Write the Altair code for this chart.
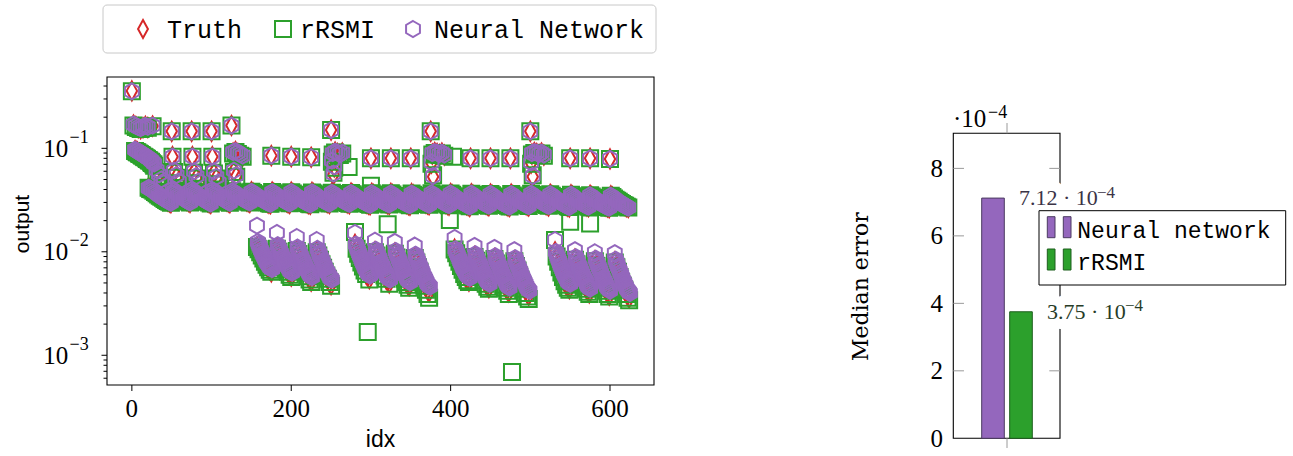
import altair as alt
import pandas as pd

# ------------------------------------------------------------------
# Left panel: model output per sample index (log scale)
# ------------------------------------------------------------------
RED, GREEN, PURPLE = "#d62728", "#2ca02c", "#9467bd"
SERIF, SANS, MONO = "Liberation Serif", "Liberation Sans", "Liberation Mono"
MARK_STROKE = 2.0

DIAMOND = "M0,-1L0.55,0L0,1L-0.55,0Z"
SQUARE = "M-1,-1L1,-1L1,1L-1,1Z"
HEXAGON = "M0,-1L0.866,-0.5L0.866,0.5L0,1L-0.866,0.5L-0.866,-0.5Z"

# Main band (all three models agree), one list per 125-sample group, every 2nd idx
band_start = [21, 126, 251, 376, 501]
band_values = [
    [0.0415, 0.0405,
     0.0400, 0.0389, 0.0378, 0.0368, 0.0358, 0.0349, 0.0340, 0.0332, 0.0324, 0.0317, 0.0310, 0.0304, 0.0298,
     0.0398, 0.0386, 0.0375, 0.0364, 0.0354, 0.0345, 0.0336, 0.0328, 0.0320, 0.0313, 0.0306, 0.0300,
     0.0396, 0.0385, 0.0374, 0.0363, 0.0353, 0.0344, 0.0335, 0.0327, 0.0319, 0.0312, 0.0305, 0.0299, 0.0293,
     0.0395, 0.0383, 0.0372, 0.0361, 0.0351, 0.0342, 0.0334, 0.0326, 0.0318, 0.0311, 0.0304, 0.0298],
    [0.0385, 0.0375, 0.0365, 0.0356, 0.0347, 0.0339, 0.0331, 0.0324, 0.0317, 0.0311, 0.0305, 0.0300,
     0.0380, 0.0370, 0.0360, 0.0351, 0.0342, 0.0334, 0.0326, 0.0319, 0.0312, 0.0306, 0.0300, 0.0295, 0.0291,
     0.0378, 0.0368, 0.0358, 0.0349, 0.0340, 0.0332, 0.0324, 0.0317, 0.0311, 0.0305, 0.0299, 0.0294,
     0.0377, 0.0366, 0.0356, 0.0347, 0.0338, 0.0330, 0.0323, 0.0316, 0.0309, 0.0303, 0.0297, 0.0292, 0.0288,
     0.0375, 0.0365, 0.0355, 0.0346, 0.0337, 0.0329, 0.0322, 0.0315, 0.0309, 0.0303, 0.0298, 0.0293],
    [0.0372, 0.0362, 0.0352, 0.0343, 0.0335, 0.0327, 0.0320, 0.0313, 0.0307, 0.0301, 0.0296, 0.0291,
     0.0370, 0.0360, 0.0350, 0.0341, 0.0333, 0.0325, 0.0318, 0.0311, 0.0305, 0.0299, 0.0294, 0.0289, 0.0285,
     0.0368, 0.0358, 0.0348, 0.0339, 0.0331, 0.0323, 0.0316, 0.0309, 0.0303, 0.0297, 0.0292, 0.0287,
     0.0367, 0.0357, 0.0347, 0.0338, 0.0330, 0.0322, 0.0315, 0.0308, 0.0302, 0.0296, 0.0291, 0.0286, 0.0282,
     0.0365, 0.0355, 0.0346, 0.0337, 0.0329, 0.0321, 0.0314, 0.0307, 0.0301, 0.0295, 0.0290, 0.0285],
    [0.0368, 0.0357, 0.0347, 0.0338, 0.0329, 0.0321, 0.0313, 0.0306, 0.0299, 0.0293, 0.0287, 0.0282,
     0.0366, 0.0355, 0.0345, 0.0336, 0.0327, 0.0319, 0.0311, 0.0304, 0.0297, 0.0291, 0.0285, 0.0280, 0.0275,
     0.0364, 0.0353, 0.0343, 0.0334, 0.0325, 0.0317, 0.0309, 0.0302, 0.0296, 0.0290, 0.0284, 0.0279,
     0.0362, 0.0352, 0.0342, 0.0333, 0.0324, 0.0316, 0.0308, 0.0301, 0.0295, 0.0289, 0.0283, 0.0278, 0.0274,
     0.0361, 0.0350, 0.0340, 0.0331, 0.0322, 0.0314, 0.0307, 0.0300, 0.0294, 0.0288, 0.0282, 0.0277],
    [0.0364, 0.0353, 0.0343, 0.0334, 0.0325, 0.0317, 0.0309, 0.0302, 0.0295, 0.0289, 0.0283, 0.0278,
     0.0360, 0.0349, 0.0339, 0.0330, 0.0321, 0.0313, 0.0306, 0.0299, 0.0292, 0.0286, 0.0281, 0.0276, 0.0271,
     0.0356, 0.0345, 0.0335, 0.0326, 0.0318, 0.0310, 0.0303, 0.0296, 0.0289, 0.0283, 0.0278, 0.0273,
     0.0352, 0.0342, 0.0332, 0.0323, 0.0315, 0.0307, 0.0300, 0.0293, 0.0287, 0.0281, 0.0276, 0.0271, 0.0267,
     0.0348, 0.0338, 0.0328, 0.0319, 0.0311, 0.0304, 0.0297, 0.0290, 0.0284, 0.0278, 0.0273, 0.0268],
]

# Low clusters: four runs per group (groups 1..4). Truth / rRSMI every 2nd idx,
# network output at every idx.
low_starts = [[157, 182, 207, 232], [280, 305, 330, 355], [405, 430, 455, 480], [531, 556, 581, 606]]
low_truth = [
    [0.0112, 0.0104, 0.0097, 0.0090, 0.0084, 0.0079, 0.0074, 0.0070, 0.0067, 0.0064,
     0.0108, 0.0099, 0.0091, 0.0084, 0.0078, 0.0073, 0.0068, 0.0064, 0.0061, 0.0058,
     0.0103, 0.0094, 0.0086, 0.0079, 0.0073, 0.0067, 0.0062, 0.0058, 0.0055, 0.0052,
     0.0100, 0.0091, 0.0083, 0.0076, 0.0069, 0.0064, 0.0059, 0.0055, 0.0051, 0.0048],
    [0.0118, 0.0106, 0.0095, 0.0086, 0.0078, 0.0071, 0.0066, 0.0061, 0.0058, 0.0055,
     0.0100, 0.0091, 0.0083, 0.0076, 0.0070, 0.0064, 0.0059, 0.0055, 0.0052, 0.0050,
     0.0097, 0.0088, 0.0080, 0.0073, 0.0066, 0.0061, 0.0056, 0.0052, 0.0049, 0.0047,
     0.0088, 0.0080, 0.0072, 0.0065, 0.0059, 0.0054, 0.0050, 0.0046, 0.0043, 0.0041],
    [0.0106, 0.0096, 0.0087, 0.0079, 0.0072, 0.0066, 0.0061, 0.0057, 0.0054, 0.0052,
     0.0090, 0.0082, 0.0075, 0.0069, 0.0063, 0.0058, 0.0054, 0.0050, 0.0047, 0.0045,
     0.0086, 0.0078, 0.0071, 0.0065, 0.0059, 0.0054, 0.0050, 0.0046, 0.0043, 0.0041,
     0.0082, 0.0074, 0.0067, 0.0061, 0.0055, 0.0050, 0.0046, 0.0043, 0.0040, 0.0038],
    [0.0100, 0.0088, 0.0078, 0.0069, 0.0062, 0.0056, 0.0052, 0.0048, 0.0046, 0.0044,
     0.0085, 0.0077, 0.0070, 0.0063, 0.0057, 0.0052, 0.0048, 0.0045, 0.0042, 0.0040,
     0.0082, 0.0074, 0.0067, 0.0061, 0.0055, 0.0050, 0.0046, 0.0043, 0.0040, 0.0038,
     0.0080, 0.0072, 0.0065, 0.0059, 0.0053, 0.0048, 0.0044, 0.0041, 0.0038, 0.0036],
]
low_rrsmi = [
    [0.0111, 0.0106, 0.0099, 0.0092, 0.0086, 0.0080, 0.0075, 0.0071, 0.0067, 0.0064,
     0.0107, 0.0100, 0.0092, 0.0085, 0.0079, 0.0073, 0.0068, 0.0064, 0.0060, 0.0057,
     0.0102, 0.0095, 0.0087, 0.0080, 0.0073, 0.0068, 0.0063, 0.0058, 0.0054, 0.0051,
     0.0099, 0.0092, 0.0084, 0.0076, 0.0070, 0.0064, 0.0059, 0.0055, 0.0051, 0.0047],
    [0.0155, 0.0107, 0.0096, 0.0087, 0.0079, 0.0072, 0.0066, 0.0061, 0.00168, 0.0054,
     0.0099, 0.0092, 0.0084, 0.0076, 0.0070, 0.0064, 0.0059, 0.0055, 0.0185, 0.0049,
     0.0096, 0.0088, 0.0080, 0.0072, 0.0066, 0.0060, 0.0055, 0.0051, 0.0048, 0.0045,
     0.0087, 0.0079, 0.0071, 0.0064, 0.0057, 0.0052, 0.0047, 0.0043, 0.0039, 0.0036],
    [0.0105, 0.0097, 0.0088, 0.0080, 0.0073, 0.0067, 0.0061, 0.0057, 0.0053, 0.0051,
     0.0089, 0.0082, 0.0075, 0.0068, 0.0062, 0.0057, 0.0053, 0.0049, 0.0046, 0.0044,
     0.0085, 0.0077, 0.0070, 0.0064, 0.0058, 0.0053, 0.0048, 0.0045, 0.0042, 0.0039,
     0.0081, 0.0073, 0.0066, 0.0059, 0.0053, 0.0048, 0.0044, 0.0040, 0.0037, 0.0035],
    [0.0130, 0.0090, 0.0080, 0.0071, 0.0063, 0.0057, 0.0052, 0.0048, 0.0045, 0.0043,
     0.0084, 0.0076, 0.0069, 0.0062, 0.0056, 0.0051, 0.0047, 0.0044, 0.0041, 0.0039,
     0.0081, 0.0073, 0.0066, 0.0060, 0.0054, 0.0049, 0.0045, 0.0042, 0.0039, 0.0037,
     0.0079, 0.0071, 0.0064, 0.0057, 0.0051, 0.0047, 0.0043, 0.0039, 0.0036, 0.0034],
]
low_nn = [
    [0.0179, 0.0125, 0.0119, 0.0114, 0.0109, 0.0104, 0.0100, 0.0096, 0.0092, 0.0089,
     0.0086, 0.0083, 0.0080, 0.0078, 0.0076, 0.0074, 0.0072, 0.0070, 0.0069, 0.0068,
     0.0152, 0.0116, 0.0111, 0.0106, 0.0102, 0.0098, 0.0094, 0.0090, 0.0087, 0.0084,
     0.0081, 0.0078, 0.0075, 0.0073, 0.0071, 0.0069, 0.0067, 0.0065, 0.0064, 0.0063,
     0.0139, 0.0110, 0.0105, 0.0100, 0.0096, 0.0092, 0.0088, 0.0084, 0.0081, 0.0078,
     0.0075, 0.0072, 0.0069, 0.0067, 0.0065, 0.0063, 0.0061, 0.0059, 0.0058, 0.0057,
     0.0130, 0.0107, 0.0102, 0.0097, 0.0093, 0.0089, 0.0085, 0.0081, 0.0078, 0.0075,
     0.0072, 0.0069, 0.0066, 0.0064, 0.0062, 0.0060, 0.0058, 0.0056, 0.0055, 0.0054],
    [0.0152, 0.0118, 0.0112, 0.0107, 0.0102, 0.0097, 0.0093, 0.0089, 0.0085, 0.0081,
     0.0078, 0.0075, 0.0072, 0.0069, 0.0067, 0.0065, 0.0063, 0.0061, 0.0060, 0.0059,
     0.0128, 0.0105, 0.0100, 0.0096, 0.0092, 0.0088, 0.0084, 0.0080, 0.0077, 0.0074,
     0.0071, 0.0068, 0.0065, 0.0063, 0.0061, 0.0059, 0.0057, 0.0056, 0.0055, 0.0054,
     0.0125, 0.0102, 0.0097, 0.0093, 0.0089, 0.0085, 0.0081, 0.0077, 0.0074, 0.0071,
     0.0068, 0.0065, 0.0062, 0.0060, 0.0058, 0.0056, 0.0054, 0.0053, 0.0052, 0.0051,
     0.0115, 0.0094, 0.0090, 0.0086, 0.0082, 0.0078, 0.0074, 0.0071, 0.0068, 0.0065,
     0.0062, 0.0059, 0.0057, 0.0055, 0.0053, 0.0051, 0.0049, 0.0048, 0.0047, 0.0046],
    [0.0136, 0.0106, 0.0101, 0.0097, 0.0093, 0.0089, 0.0085, 0.0081, 0.0078, 0.0075,
     0.0072, 0.0069, 0.0067, 0.0065, 0.0063, 0.0061, 0.0059, 0.0058, 0.0057, 0.0056,
     0.0114, 0.0095, 0.0091, 0.0087, 0.0083, 0.0080, 0.0077, 0.0074, 0.0071, 0.0068,
     0.0065, 0.0062, 0.0060, 0.0058, 0.0056, 0.0054, 0.0052, 0.0051, 0.0050, 0.0049,
     0.0109, 0.0091, 0.0087, 0.0083, 0.0079, 0.0076, 0.0073, 0.0070, 0.0067, 0.0064,
     0.0061, 0.0058, 0.0056, 0.0054, 0.0052, 0.0050, 0.0048, 0.0047, 0.0046, 0.0045,
     0.0104, 0.0087, 0.0083, 0.0079, 0.0075, 0.0072, 0.0069, 0.0066, 0.0063, 0.0060,
     0.0057, 0.0055, 0.0053, 0.0051, 0.0049, 0.0047, 0.0045, 0.0044, 0.0043, 0.0042],
    [0.0130, 0.0100, 0.0095, 0.0090, 0.0086, 0.0082, 0.0078, 0.0074, 0.0071, 0.0068,
     0.0065, 0.0062, 0.0060, 0.0058, 0.0056, 0.0054, 0.0052, 0.0051, 0.0050, 0.0049,
     0.0104, 0.0089, 0.0085, 0.0081, 0.0077, 0.0074, 0.0071, 0.0068, 0.0065, 0.0062,
     0.0059, 0.0057, 0.0055, 0.0053, 0.0051, 0.0049, 0.0047, 0.0046, 0.0045, 0.0044,
     0.0099, 0.0086, 0.0082, 0.0078, 0.0074, 0.0071, 0.0068, 0.0065, 0.0062, 0.0059,
     0.0056, 0.0054, 0.0052, 0.0050, 0.0048, 0.0046, 0.0045, 0.0044, 0.0043, 0.0042,
     0.0097, 0.0084, 0.0080, 0.0076, 0.0072, 0.0069, 0.0066, 0.0063, 0.0060, 0.0057,
     0.0054, 0.0052, 0.0050, 0.0048, 0.0046, 0.0044, 0.0043, 0.0042, 0.0041, 0.0040],
]

# Upper samples (peaks, 0.08 row, group-start columns)
spec_idx = [0, 2, 5, 8, 11, 14, 17, 20, 26,
            4, 6, 7, 9, 10, 12, 13, 15, 16, 18, 19, 21, 22, 24, 25, 27, 28, 31, 34, 37, 40,
            50, 51, 53, 56, 59, 75, 76, 78, 81, 84, 100, 101, 103, 106, 109,
            125, 127, 128, 130, 131, 133, 136, 139, 175, 200, 225,
            250, 251, 252, 253, 254, 255, 258, 261, 264, 300, 325, 350,
            375, 376, 377, 378, 380, 383, 386, 389, 392, 425, 450, 475,
            500, 501, 502, 503, 505, 508, 511, 514, 517, 550, 575, 600]
spec_truth = [0.359, 0.168, 0.162, 0.158, 0.155, 0.158, 0.163, 0.159, 0.164,
              0.095, 0.093, 0.092, 0.090, 0.089, 0.087, 0.086, 0.084, 0.083, 0.081, 0.080, 0.078, 0.077,
              0.075, 0.073, 0.071, 0.069, 0.060, 0.054, 0.049, 0.045,
              0.146, 0.083, 0.060, 0.053, 0.047, 0.146, 0.083, 0.059, 0.052, 0.047, 0.146, 0.083, 0.058, 0.052, 0.046,
              0.166, 0.090, 0.060, 0.093, 0.054, 0.089, 0.086, 0.084, 0.085, 0.083, 0.082,
              0.150, 0.075, 0.088, 0.056, 0.066, 0.092, 0.089, 0.087, 0.090, 0.080, 0.080, 0.080,
              0.146, 0.072, 0.088, 0.053, 0.091, 0.089, 0.087, 0.090, 0.086, 0.080, 0.080, 0.080,
              0.146, 0.072, 0.088, 0.053, 0.091, 0.089, 0.087, 0.090, 0.086, 0.080, 0.080, 0.079]
spec_rrsmi = [0.356, 0.166, 0.161, 0.157, 0.154, 0.157, 0.161, 0.158, 0.163,
              0.094, 0.092, 0.091, 0.089, 0.088, 0.086, 0.085, 0.083, 0.082, 0.080, 0.079, 0.077, 0.076,
              0.074, 0.072, 0.070, 0.068, 0.059, 0.053, 0.048, 0.044,
              0.146, 0.083, 0.059, 0.052, 0.046, 0.146, 0.083, 0.058, 0.051, 0.046, 0.146, 0.083, 0.057, 0.051, 0.045,
              0.166, 0.089, 0.059, 0.092, 0.053, 0.088, 0.085, 0.083, 0.085, 0.083, 0.082,
              0.150, 0.074, 0.087, 0.058, 0.065, 0.091, 0.088, 0.086, 0.089, 0.080, 0.080, 0.080,
              0.146, 0.071, 0.087, 0.055, 0.090, 0.088, 0.086, 0.089, 0.085, 0.080, 0.080, 0.080,
              0.146, 0.071, 0.087, 0.055, 0.090, 0.088, 0.086, 0.089, 0.085, 0.080, 0.080, 0.079]
spec_nn = [0.356, 0.170, 0.165, 0.160, 0.157, 0.161, 0.165, 0.161, 0.166,
           0.097, 0.095, 0.094, 0.092, 0.091, 0.089, 0.088, 0.086, 0.085, 0.083, 0.082, 0.080, 0.079,
           0.077, 0.075, 0.073, 0.071, 0.062, 0.056, 0.050, 0.046,
           0.146, 0.083, 0.061, 0.055, 0.048, 0.146, 0.083, 0.060, 0.054, 0.048, 0.146, 0.083, 0.060, 0.053, 0.047,
           0.166, 0.092, 0.061, 0.094, 0.055, 0.091, 0.088, 0.085, 0.085, 0.083, 0.082,
           0.150, 0.076, 0.090, 0.057, 0.067, 0.093, 0.091, 0.088, 0.091, 0.080, 0.080, 0.080,
           0.146, 0.073, 0.090, 0.054, 0.092, 0.091, 0.088, 0.091, 0.087, 0.080, 0.080, 0.080,
           0.146, 0.073, 0.090, 0.054, 0.092, 0.091, 0.088, 0.091, 0.087, 0.080, 0.080, 0.079]

# rRSMI-only misses
rr_out_idx = [272, 300, 399, 403, 477, 550, 575]
rr_out_val = [0.066, 0.0436, 0.0203, 0.083, 0.00069, 0.0195, 0.0188]

# Axis ticks
ytick_major = [0.001, 0.01, 0.1]
ytick_exp = ["\u22123", "\u22122", "\u22121"]
ytick_minor = [6e-4, 7e-4, 8e-4, 9e-4,
               2e-3, 3e-3, 4e-3, 5e-3, 6e-3, 7e-3, 8e-3, 9e-3,
               2e-2, 3e-2, 4e-2, 5e-2, 6e-2, 7e-2, 8e-2, 9e-2,
               2e-1, 3e-1, 4e-1]
xtick_vals = [0, 200, 400, 600]


def series_frame(low_vals, low_step, spec_vals, extra_idx=(), extra_vals=()):
    idx, val = [], []
    for start, vals in zip(band_start, band_values):
        idx += list(range(start, start + 2 * len(vals), 2))
        val += vals
    per_run = 20 // low_step
    for starts, vals in zip(low_starts, low_vals):
        for k, s in enumerate(starts):
            idx += list(range(s, s + 20, low_step))
            val += vals[per_run * k:per_run * (k + 1)]
    idx += spec_idx
    val += spec_vals
    idx += list(extra_idx)
    val += list(extra_vals)
    return pd.DataFrame({"idx": idx, "value": val})


truth_df = series_frame(low_truth, 2, spec_truth)
rrsmi_df = series_frame(low_rrsmi, 2, spec_rrsmi, rr_out_idx, rr_out_val)
nn_df = series_frame(low_nn, 1, spec_nn)

xs = alt.Scale(domain=[-31.2, 655.2], range=[107, 654], nice=False, zero=False)
ys = alt.Scale(type="log", domain=[5.16e-4, 0.489], range=[385, 77], nice=False)
one = pd.DataFrame({"k": [0]})


def scatter(df, path, size, color):
    return alt.Chart(df).mark_point(
        shape=path, size=size, filled=False, color=color, strokeWidth=MARK_STROKE, opacity=1
    ).encode(x=alt.X("idx:Q", scale=xs, axis=None), y=alt.Y("value:Q", scale=ys, axis=None))


def label(text, x, y, font, size, align="left", angle=0, color="black"):
    return alt.Chart(one).mark_text(
        text=text, font=font, fontSize=size, align=align, baseline="alphabetic", angle=angle, color=color
    ).encode(x=alt.value(x), y=alt.value(y))


def box(x, x2, y, y2, stroke="black", fill="white", fill_opacity=1.0, width=1.0, radius=0):
    return alt.Chart(one).mark_rect(
        fill=fill, fillOpacity=fill_opacity, stroke=stroke, strokeWidth=width, cornerRadius=radius
    ).encode(x=alt.value(x), x2=alt.value(x2), y=alt.value(y), y2=alt.value(y2))


def symbol(path, size, color, x, y):
    return alt.Chart(one).mark_point(
        shape=path, size=size, filled=False, color=color, strokeWidth=MARK_STROKE, opacity=1
    ).encode(x=alt.value(x), y=alt.value(y))


major_df = pd.DataFrame({"v": ytick_major, "exp": ytick_exp})
minor_df = pd.DataFrame({"v": ytick_minor})
xt_df = pd.DataFrame({"v": xtick_vals, "lab": [str(v) for v in xtick_vals]})

y_major = alt.Chart(major_df).mark_rule(color="black", strokeWidth=1).encode(
    y=alt.Y("v:Q", scale=ys, axis=None), x=alt.value(101.5), x2=alt.value(107))
y_minor = alt.Chart(minor_df).mark_rule(color="black", strokeWidth=1).encode(
    y=alt.Y("v:Q", scale=ys, axis=None), x=alt.value(103.5), x2=alt.value(107))
y_base = alt.Chart(major_df).mark_text(
    text="10", font=SERIF, fontSize=25, align="right", baseline="alphabetic", dy=8.4
).encode(y=alt.Y("v:Q", scale=ys, axis=None), x=alt.value(68.3))
y_exp = alt.Chart(major_df).mark_text(
    font=SERIF, fontSize=18, align="left", baseline="alphabetic", dy=-5.3
).encode(y=alt.Y("v:Q", scale=ys, axis=None), x=alt.value(69.5), text="exp:N")
x_ticks = alt.Chart(xt_df).mark_rule(color="black", strokeWidth=1).encode(
    x=alt.X("v:Q", scale=xs, axis=None), y=alt.value(385), y2=alt.value(391))
x_labels = alt.Chart(xt_df).mark_text(
    font=SERIF, fontSize=25, align="center", baseline="alphabetic"
).encode(x=alt.X("v:Q", scale=xs, axis=None), y=alt.value(417), text="lab:N")

left = alt.layer(
    scatter(truth_df, DIAMOND, 361, RED),
    scatter(rrsmi_df, SQUARE, 256, GREEN),
    scatter(nn_df, HEXAGON, 256, PURPLE),
    box(107, 654, 77, 385, fill_opacity=0.0, width=1.1),
    y_major, y_minor, y_base, y_exp, x_ticks, x_labels,
    label("output", 29, 224, SANS, 21, align="center", angle=270),
    label("idx", 380.5, 447, SANS, 23, align="center"),
    box(103, 656, 5, 53, stroke="#c8c8c8", width=1, radius=4),
    symbol(DIAMOND, 324, RED, 143, 29),
    label("Truth", 167, 38, MONO, 25),
    symbol(SQUARE, 256, GREEN, 283, 29),
    label("rRSMI", 300, 38, MONO, 25),
    symbol(HEXAGON, 256, PURPLE, 413, 29),
    label("Neural Network", 434, 38, MONO, 25),
)

# ------------------------------------------------------------------
# Right panel: median error per model
# ------------------------------------------------------------------
models = ["Neural network", "rRSMI"]
median_error = [7.12e-4, 3.75e-4]
bar_fill = {"Neural network": PURPLE, "rRSMI": GREEN}
bar_edge = {"Neural network": "#4a3a60", "rRSMI": "#1d5e1d"}
label_color = {"Neural network": "#3b3346", "rRSMI": "#273c27"}

bar_df = pd.DataFrame({
    "model": models,
    "median": median_error,
    "lab": [f"{v * 1e4:.2f} \u00b7 10" for v in median_error],
    "exp": ["\u22124"] * len(models),
})
rt_vals = [0, 2e-4, 4e-4, 6e-4, 8e-4]
rt_df = pd.DataFrame({"v": rt_vals, "lab": [f"{v * 1e4:.0f}" for v in rt_vals]})

xr = alt.Scale(type="band", domain=models, range=[981.7, 1032.3], paddingInner=0.193, paddingOuter=0)
yr = alt.Scale(domain=[0, 9.04e-4], range=[438.3, 133.3], nice=False, zero=False)


def per_model(m):
    return alt.Chart(bar_df).transform_filter(alt.datum.model == m)


enc_xy = dict(x=alt.X("model:N", scale=xr, axis=None), y=alt.Y("median:Q", scale=yr, axis=None))

bars = [
    per_model(m).mark_bar(color=bar_fill[m], stroke=bar_edge[m], strokeWidth=1).encode(**enc_xy)
    for m in models
]
halos = [
    alt.Chart(bar_df).mark_text(
        font=SERIF, fontSize=22, align="left", baseline="alphabetic", dx=26, dy=7,
        color="white", stroke="white", strokeWidth=20, strokeJoin="round"
    ).encode(text="lab:N", **enc_xy)
]
value_labels = []
for m in models:
    value_labels.append(per_model(m).mark_text(
        font=SERIF, fontSize=22, align="left", baseline="alphabetic", dx=26, dy=7, color=label_color[m]
    ).encode(text="lab:N", **enc_xy))
    value_labels.append(per_model(m).mark_text(
        font=SERIF, fontSize=17, align="left", baseline="alphabetic", dx=104, dy=-0.5, color=label_color[m]
    ).encode(text="exp:N", **enc_xy))

tick_df = rt_df[rt_df["v"] > 0]
r_ticks_l = alt.Chart(tick_df).mark_rule(color="#9a9a9a", strokeWidth=1).encode(
    y=alt.Y("v:Q", scale=yr, axis=None), x=alt.value(953.3), x2=alt.value(964))
r_ticks_r = alt.Chart(tick_df).mark_rule(color="#9a9a9a", strokeWidth=1).encode(
    y=alt.Y("v:Q", scale=yr, axis=None), x=alt.value(1049.3), x2=alt.value(1060))
r_xtick_top = alt.Chart(one).mark_rule(color="#9a9a9a", strokeWidth=1).encode(
    x=alt.value(1007), y=alt.value(123), y2=alt.value(133.3))
r_xtick_bot = alt.Chart(one).mark_rule(color="#9a9a9a", strokeWidth=1).encode(
    x=alt.value(1007), y=alt.value(438.3), y2=alt.value(448))
r_ylabels = alt.Chart(rt_df).mark_text(
    font=SERIF, fontSize=25, align="right", baseline="alphabetic", dy=8.3
).encode(y=alt.Y("v:Q", scale=yr, axis=None), x=alt.value(943), text="lab:N")

right = alt.layer(
    box(953.3, 1060, 133.3, 438.3, fill_opacity=0.0, width=1.1),
    r_ticks_l, r_ticks_r, r_xtick_top, r_xtick_bot,
    *bars, *halos, *value_labels,
    box(1039, 1285.7, 210.7, 285, width=1),
    box(1047.3, 1055, 216.7, 237.7, fill=PURPLE, stroke=bar_edge["Neural network"]),
    box(1063.3, 1071, 216.7, 237.7, fill=PURPLE, stroke=bar_edge["Neural network"]),
    box(1047.3, 1055, 249, 270, fill=GREEN, stroke=bar_edge["rRSMI"]),
    box(1063.3, 1071, 249, 270, fill=GREEN, stroke=bar_edge["rRSMI"]),
    label("Neural network", 1077.3, 238, MONO, 23),
    label("rRSMI", 1077.3, 270, MONO, 23),
    r_ylabels,
    label("\u00b710", 953, 126.7, SERIF, 25),
    label("\u22124", 988, 118, SERIF, 18),
    label("Median error", 868.3, 286.7, "DejaVu Serif", 22, align="center", angle=270),
)

chart = alt.layer(left, right).resolve_scale(x="independent", y="independent").properties(
    width=1293, height=456, padding=0, autosize=alt.AutoSizeParams(type="none")
).configure_view(strokeWidth=0)

chart.save("out.html", embed_options={"renderer": "svg", "actions": False})
